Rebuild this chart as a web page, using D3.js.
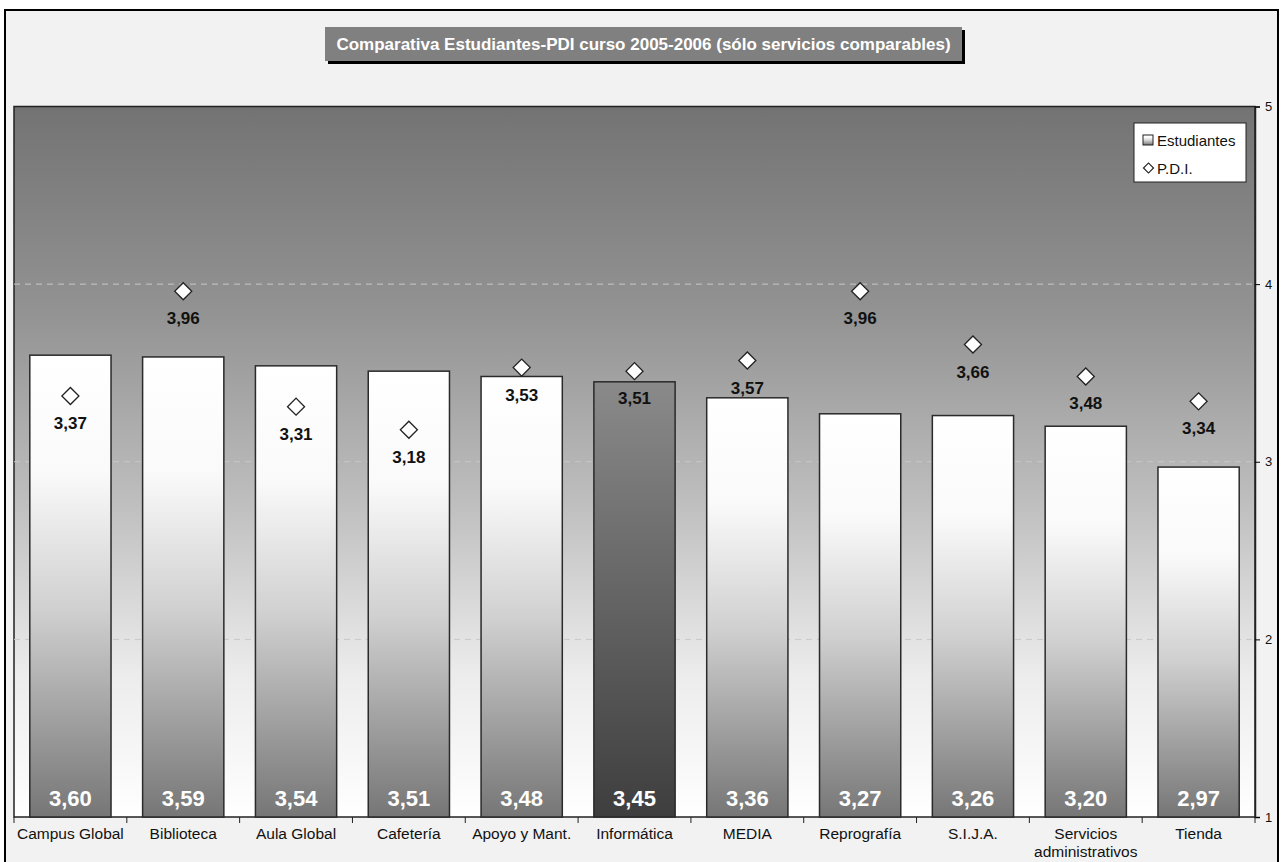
<!DOCTYPE html>
<html>
<head>
<meta charset="utf-8">
<script src="https://cdn.jsdelivr.net/npm/d3@7"></script>
<style>
  body { margin: 0; background: #fff; }
  text { font-family: "Liberation Sans", Arial, sans-serif; }
</style>
</head>
<body>
<div id="chart"></div>
<script>
// data
const categories = ["Campus Global", "Biblioteca", "Aula Global", "Cafetería", "Apoyo y Mant.",
  "Informática", "MEDIA", "Reprografía", "S.I.J.A.", "Servicios administrativos", "Tienda"];
const estudiantes = [3.60, 3.59, 3.54, 3.51, 3.48, 3.45, 3.36, 3.27, 3.26, 3.20, 2.97];
const pdi = [3.37, 3.96, 3.31, 3.18, 3.53, 3.51, 3.57, 3.96, 3.66, 3.48, 3.34];
const yTicks = [1, 2, 3, 4, 5];
const gridTicks = [2, 3, 4];
const highlight = "Informática";
const title = "Comparativa Estudiantes-PDI curso 2005-2006 (sólo servicios comparables)";

const width = 1281, height = 862;
const plot = { left: 14, right: 1255, top: 106.5, bottom: 817 };
const fmt = v => v.toFixed(2).replace(".", ",");

const svg = d3.select("#chart").append("svg")
  .attr("width", width).attr("height", height);

const defs = svg.append("defs");
const grad = (id, stops) => {
  const g = defs.append("linearGradient").attr("id", id)
    .attr("x1", 0).attr("y1", 0).attr("x2", 0).attr("y2", 1);
  stops.forEach(s => g.append("stop").attr("offset", s[0]).attr("stop-color", s[1]));
};
grad("bgGrad", [[0, "#737373"], [0.3, "#949494"], [0.55, "#bdbdbd"], [0.8, "#ececec"], [1, "#ffffff"]]);
grad("barGrad", [[0, "#ffffff"], [0.25, "#fafafa"], [0.55, "#d0d0d0"], [1, "#767676"]]);
grad("hiGrad", [[0, "#8a8a8a"], [1, "#3e3e3e"]]);

// chart area + frame
svg.append("rect").attr("x", 5).attr("y", 10).attr("width", 1273).attr("height", 870)
  .attr("fill", "#f2f2f2").attr("stroke", "#000").attr("stroke-width", 2);

// scales
const x = d3.scaleBand().domain(categories).range([plot.left, plot.right])
  .paddingInner(0.28).paddingOuter(0.14);
const y = d3.scaleLinear().domain([1, 5]).range([plot.bottom, plot.top]);

// plot background
svg.append("rect").attr("x", plot.left).attr("y", plot.top)
  .attr("width", plot.right - plot.left).attr("height", plot.bottom - plot.top)
  .attr("fill", "url(#bgGrad)").attr("stroke", "#222").attr("stroke-width", 1.5);

// gridlines
svg.append("g").selectAll("line").data(gridTicks).join("line")
  .attr("x1", plot.left).attr("x2", plot.right)
  .attr("y1", d => y(d)).attr("y2", d => y(d))
  .attr("stroke", "#c8c8c8").attr("stroke-dasharray", "6,5").attr("stroke-width", 1);

// bars
svg.append("g").selectAll("rect").data(categories).join("rect")
  .attr("x", d => x(d))
  .attr("y", (d, i) => y(estudiantes[i]))
  .attr("width", x.bandwidth())
  .attr("height", (d, i) => y(1) - y(estudiantes[i]))
  .attr("fill", d => d === highlight ? "url(#hiGrad)" : "url(#barGrad)")
  .attr("stroke", "#2a2a2a").attr("stroke-width", 1.5);

// bar value labels at the bottom
svg.append("g").selectAll("text").data(categories).join("text")
  .attr("x", d => x(d) + x.bandwidth() / 2)
  .attr("y", y(1) - 11)
  .attr("text-anchor", "middle")
  .attr("font-size", 22).attr("font-weight", "bold").attr("fill", "#fff")
  .text((d, i) => fmt(estudiantes[i]));

// PDI diamonds
const diamond = d3.symbol().type(d3.symbolSquare).size(145);
svg.append("g").selectAll("path").data(categories).join("path")
  .attr("d", diamond)
  .attr("transform", (d, i) => `translate(${x(d) + x.bandwidth() / 2},${y(pdi[i])}) rotate(45)`)
  .attr("fill", "#fff").attr("stroke", "#222").attr("stroke-width", 1.3);

svg.append("g").selectAll("text").data(categories).join("text")
  .attr("x", d => x(d) + x.bandwidth() / 2)
  .attr("y", (d, i) => y(pdi[i]) + 33)
  .attr("text-anchor", "middle")
  .attr("font-size", 17).attr("font-weight", "bold").attr("fill", "#111")
  .text((d, i) => fmt(pdi[i]));

// right axis
const yAxis = svg.append("g")
  .attr("transform", `translate(${plot.right},0)`)
  .call(d3.axisRight(y).tickValues(yTicks).tickSize(5).tickPadding(5).tickFormat(d3.format("d")));
yAxis.select(".domain").attr("stroke", "#222").attr("stroke-width", 1.5);
yAxis.selectAll("text").attr("font-size", 13).attr("fill", "#111")
  .attr("font-family", "Liberation Sans, Arial, sans-serif");

// bottom axis: ticks between categories
const step = x.step();
const boundaries = d3.range(categories.length + 1).map(i => plot.left + i * step);
svg.append("g").selectAll("line").data(boundaries).join("line")
  .attr("x1", d => d).attr("x2", d => d)
  .attr("y1", plot.bottom).attr("y2", plot.bottom + 6)
  .attr("stroke", "#222");

const catText = svg.append("g").selectAll("text").data(categories).join("text")
  .attr("x", d => x(d) + x.bandwidth() / 2)
  .attr("y", plot.bottom + 22)
  .attr("text-anchor", "middle")
  .attr("font-size", 15.5).attr("fill", "#111");
catText.each(function (d) {
  const lines = d === "Servicios administrativos" ? ["Servicios", "administrativos"] : [d];
  d3.select(this).selectAll("tspan").data(lines).join("tspan")
    .attr("x", x(d) + x.bandwidth() / 2)
    .attr("dy", (l, j) => j === 0 ? 0 : 18)
    .text(l => l);
});

// title box with shadow
svg.append("rect").attr("x", 328).attr("y", 30).attr("width", 637).attr("height", 34).attr("fill", "#000");
svg.append("rect").attr("x", 325).attr("y", 27).attr("width", 637).attr("height", 34).attr("fill", "#808080");
svg.append("text").attr("x", 643.5).attr("y", 50)
  .attr("text-anchor", "middle").attr("font-size", 17).attr("font-weight", "bold")
  .attr("fill", "#fff").text(title);

// legend
const lg = svg.append("g");
lg.append("rect").attr("x", 1134).attr("y", 123).attr("width", 112).attr("height", 59)
  .attr("fill", "#fff").attr("stroke", "#222");
lg.append("rect").attr("x", 1143).attr("y", 135).attr("width", 10).attr("height", 10)
  .attr("fill", "url(#barGrad)").attr("stroke", "#222");
lg.append("text").attr("x", 1157).attr("y", 145.5).attr("font-size", 15).attr("fill", "#111").text("Estudiantes");
lg.append("path").attr("d", d3.symbol().type(d3.symbolSquare).size(50))
  .attr("transform", "translate(1148.5,168) rotate(45)")
  .attr("fill", "#fff").attr("stroke", "#222").attr("stroke-width", 1.2);
lg.append("text").attr("x", 1157).attr("y", 174).attr("font-size", 15).attr("fill", "#111").text("P.D.I.");
</script>
</body>
</html>
